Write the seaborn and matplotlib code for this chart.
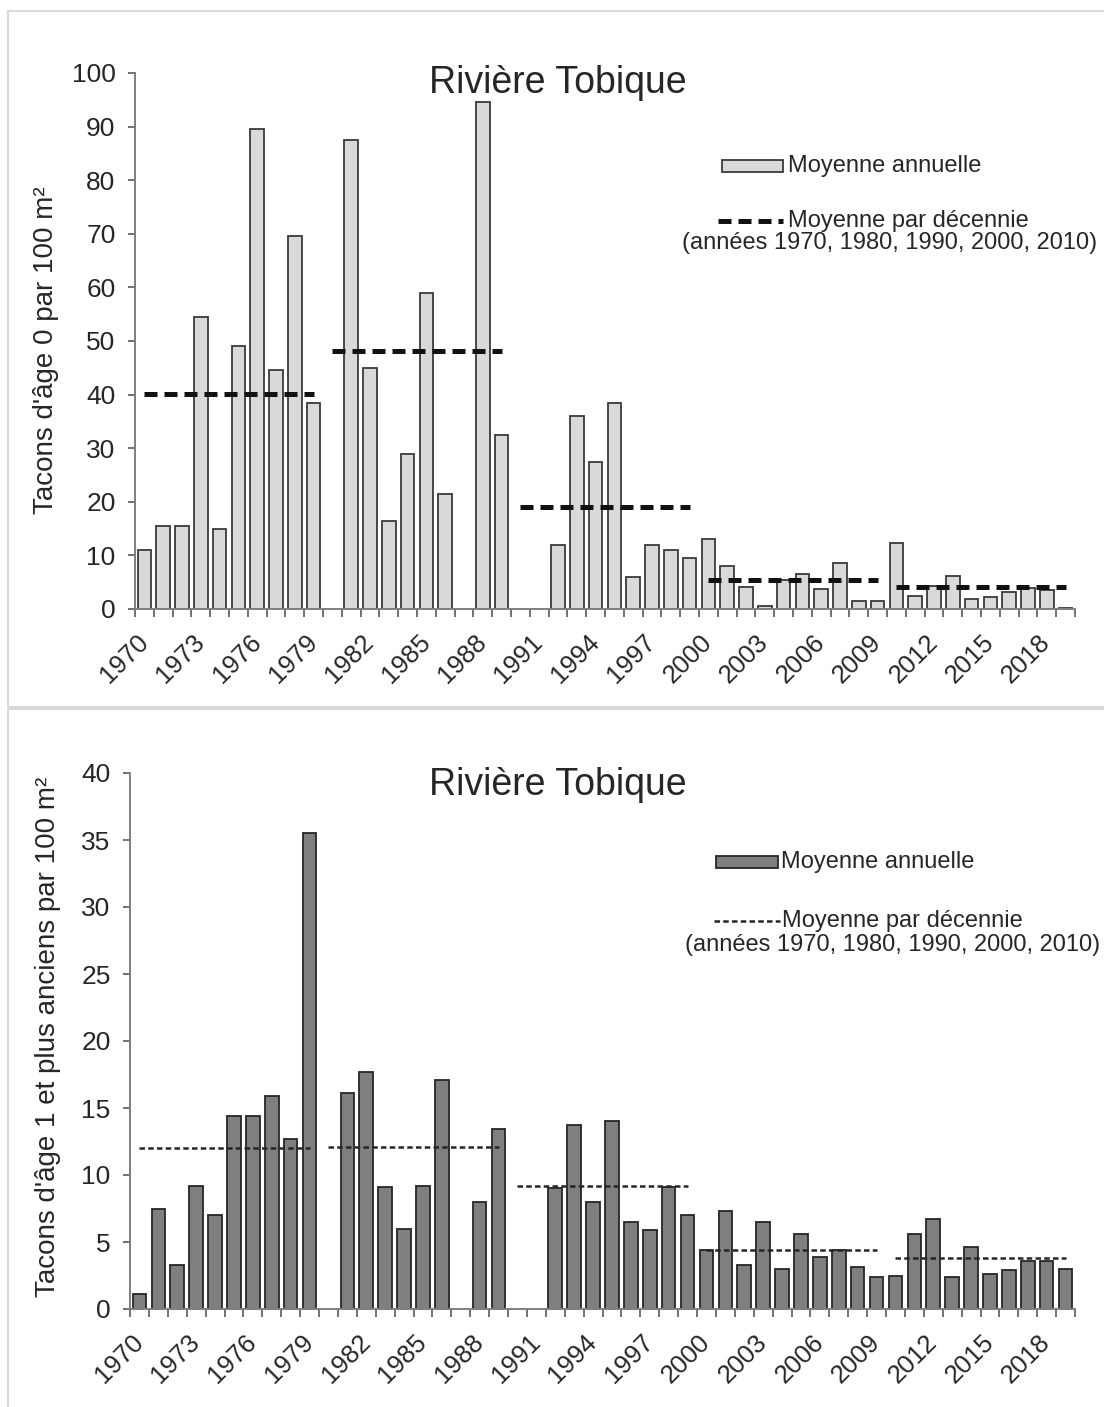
import numpy as np
import pandas as pd
import matplotlib
matplotlib.use("Agg")
import matplotlib.pyplot as plt
import seaborn as sns
from matplotlib.patches import Rectangle
from matplotlib.lines import Line2D

nan = np.nan

# ---- data -------------------------------------------------------------
years = list(range(1970, 2020))

# Tacons d'âge 0 (par 100 m²), moyenne annuelle
age0_annual = [11.0, 15.5, 15.5, 54.5, 15.0, 49.0, 89.5, 44.5, 69.5, 38.5,
               nan, 87.5, 45.0, 16.5, 29.0, 59.0, 21.5, nan, 94.5, 32.5,
               nan, nan, 12.0, 36.0, 27.5, 38.5, 6.0, 12.0, 11.0, 9.5,
               13.0, 8.1, 4.1, 0.5, 5.5, 6.5, 3.8, 8.5, 1.5, 1.5,
               12.4, 2.5, 4.2, 6.2, 1.8, 2.3, 3.2, 4.0, 3.5, 0.2]

# Tacons d'âge 1 et plus anciens (par 100 m²), moyenne annuelle
age1_annual = [1.1, 7.5, 3.3, 9.2, 7.0, 14.4, 14.4, 15.9, 12.7, 35.5,
               nan, 16.1, 17.7, 9.1, 6.0, 9.2, 17.1, nan, 8.0, 13.4,
               nan, nan, 9.0, 13.7, 8.0, 14.0, 6.5, 5.9, 9.1, 7.0,
               4.4, 7.3, 3.3, 6.5, 3.0, 5.6, 3.9, 4.4, 3.1, 2.4,
               2.5, 5.6, 6.7, 2.4, 4.6, 2.6, 2.9, 3.6, 3.6, 3.0]

# Moyennes par décennie
decade_starts = [1970, 1980, 1990, 2000, 2010]
age0_decade = [40.2, 48.1, 19.1, 5.5, 4.1]
age1_decade = [12.0, 12.1, 9.2, 4.4, 3.8]

tick_years = list(range(1970, 2020, 3))

title_text = "Rivière Tobique"
ylabel_top = "Tacons d'âge 0 par 100 m²"
ylabel_bottom = "Tacons d'âge 1 et plus anciens par 100 m²"
legend_bar = "Moyenne annuelle"
legend_line = "Moyenne par décennie"
legend_line2 = "(années 1970, 1980, 1990, 2000, 2010)"

# ---- style ------------------------------------------------------------
sns.set_theme(style="white")
plt.rcParams["font.family"] = ["Liberation Sans", "DejaVu Sans"]
TXT = "#262626"

W, H = 1104, 1407
fig = plt.figure(figsize=(W / 100, H / 100), dpi=100)
fig.patch.set_facecolor("white")


def fx(px):
    return px / W


def fy(py):
    return 1 - py / H


def panel(box_top, box_bottom, ax_rect, values, decade_means, ymax, ystep,
          fill, edge, dash_lw, dash_pattern, dash_color, ylabel,
          title_y, ylabel_xy, leg):
    # light frame around the chart area
    fig.add_artist(Rectangle((fx(8), fy(box_bottom)), 1.2, fy(box_top) - fy(box_bottom),
                             transform=fig.transFigure, fill=False,
                             edgecolor="#d9d9d9", linewidth=1.5, clip_on=False))

    left, top, right, bottom = ax_rect
    ax = fig.add_axes([fx(left), fy(bottom), fx(right) - fx(left), fy(top) - fy(bottom)])
    ax.set_facecolor("none")

    labels = [str(y) for y in years]
    df = pd.DataFrame({"annee": labels, "valeur": values})
    sns.barplot(data=df, x="annee", y="valeur", order=labels, color=fill,
                saturation=1, edgecolor=edge, linewidth=1.3, width=0.72,
                errorbar=None, ax=ax)

    # decade averages, from the first to the last year of each decade
    for start, m in zip(decade_starts, decade_means):
        i0 = years.index(start)
        ax.plot([i0, i0 + 9], [m, m], color=dash_color, linewidth=dash_lw,
                linestyle=(0, dash_pattern), solid_capstyle="butt",
                dash_capstyle="butt", zorder=5)

    ax.set_xlim(-0.5, len(years) - 0.5)
    ax.set_ylim(0, ymax)
    ax.set_yticks(np.arange(0, ymax + 0.1, ystep))
    ax.set_yticklabels([f"{v:g}" for v in np.arange(0, ymax + 0.1, ystep)])
    ax.set_xticks([years.index(y) for y in tick_years])
    ax.set_xticklabels([str(y) for y in tick_years], rotation=45,
                       ha="right", va="center", rotation_mode="anchor")
    ax.set_xticks(np.arange(-0.5, len(years), 1.0), minor=True)
    ax.tick_params(axis="x", which="major", length=0, pad=21,
                   labelsize=18.5, labelcolor=TXT)
    ax.tick_params(axis="x", which="minor", bottom=True, length=6,
                   width=1.2, color="#595959", direction="out")
    ax.tick_params(axis="y", which="major", left=True, length=5, width=1.2,
                   color="#595959", direction="out", pad=9,
                   labelsize=19, labelcolor=TXT)
    ax.set_xlabel("")
    ax.set_ylabel("")
    for s in ("top", "right"):
        ax.spines[s].set_visible(False)
    for s in ("left", "bottom"):
        ax.spines[s].set_color("#7f7f7f")
        ax.spines[s].set_linewidth(1.4)
    ax.grid(False)

    fig.text(fx(558), fy(title_y), title_text, ha="center", va="center",
             fontsize=27, color=TXT)
    fig.text(fx(ylabel_xy[0]), fy(ylabel_xy[1]), ylabel, rotation=90,
             ha="center", va="center", fontsize=20, color=TXT)

    # legend entries
    (px0, px1, py_bar, ph), (lx0, lx1, py_line), tx_bar, tx_line, py_l2, cx_l2 = leg
    fig.add_artist(Rectangle((fx(px0), fy(py_bar + ph / 2)), fx(px1) - fx(px0),
                             (ph / H), transform=fig.transFigure,
                             facecolor=fill, edgecolor=edge, linewidth=1.3))
    fig.text(fx(tx_bar), fy(py_bar), legend_bar, ha="left", va="center",
             fontsize=17, color=TXT)
    fig.add_artist(Line2D([fx(lx0), fx(lx1)], [fy(py_line), fy(py_line)],
                          transform=fig.transFigure, color=dash_color,
                          linewidth=dash_lw, linestyle=(0, dash_pattern),
                          dash_capstyle="butt"))
    fig.text(fx(tx_line), fy(py_line), legend_line, ha="left", va="center",
             fontsize=17, color=TXT)
    fig.text(fx(cx_l2), fy(py_l2), legend_line2, ha="center", va="center",
             fontsize=17, color=TXT)
    return ax


panel(11, 707, (135, 73, 1075, 609), age0_annual, age0_decade, 100, 10,
      "#d9d9d9", "#3a3a3a", 3.6, (2.6, 1.4), "#111111", ylabel_top,
      83, (46, 350),
      ((722, 783, 166, 12), (718, 783, 221), 788, 788, 243, 890))

panel(709, 1500, (130, 773, 1075, 1309), age1_annual, age1_decade, 40, 5,
      "#7f7f7f", "#262626", 1.8, (2.2, 1.3), "#262626", ylabel_bottom,
      785, (48, 1037),
      ((716, 778, 862, 12), (714, 780, 921), 781, 782, 945, 893))

fig.savefig("out.png", dpi=100, facecolor="white")
